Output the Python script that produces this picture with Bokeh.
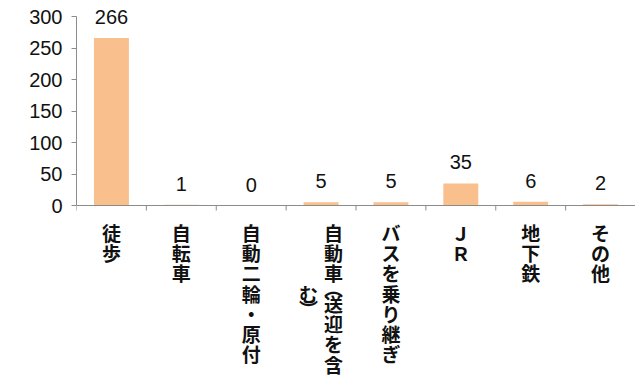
from bokeh.plotting import figure
from bokeh.models import ColumnDataSource, FixedTicker, Range1d, Span
from bokeh.core.properties import value
from bokeh.embed import file_html
from bokeh.resources import INLINE

# ---- data ----
categories = ["徒歩", "自転車", "自動二輪・原付", "自動車（送迎を含む）",
              "バスを乗り継ぎ", "ＪＲ", "地下鉄", "その他"]
values = [266, 1, 0, 5, 5, 35, 6, 2]
y_ticks = [0, 50, 100, 150, 200, 250, 300]

# ---- style / layout ----
BAR = "#F9BF8C"
AXIS = "#8C8C8C"
TXT = "#111111"
NUM_FONT = "Liberation Sans"
CJK_FONT = "Noto Sans CJK JP"
W, H = 635, 378
LEFT = 76          # frame left (px)
TOP_PX = 16        # pixel row of the top tick
ZERO_PX = 205      # pixel row of the baseline
YMAX = y_ticks[-1]
PX = (ZERO_PX - TOP_PX) / YMAX      # pixels per unit
LABEL_GAP = 21     # px between bar top and value label anchor

n = len(categories)
p = figure(width=W, height=H, output_backend="svg", toolbar_location=None,
           x_range=Range1d(0, n),
           y_range=Range1d(-(H - ZERO_PX) / PX, YMAX + TOP_PX / PX),
           min_border_left=LEFT, min_border_right=0, min_border_top=0,
           min_border_bottom=0)
p.outline_line_color = None
p.xgrid.visible = False
p.ygrid.visible = False
p.xaxis.visible = False
p.background_fill_color = "white"
p.border_fill_color = "white"

xs = [i + 0.5 for i in range(n)]
src = ColumnDataSource(dict(x=xs, top=values, label=[str(v) for v in values],
                            ly=[v + LABEL_GAP / PX for v in values]))
p.vbar(x="x", top="top", bottom=0, width=0.5, source=src,
       fill_color=BAR, line_color=None)

# data labels
p.text(x="x", y="ly", text="label", source=src, text_align="center",
       text_baseline="alphabetic", text_font=value(NUM_FONT),
       text_font_size=value("20px"), text_color=TXT)

# y axis
ya = p.yaxis[0]
ya.ticker = FixedTicker(ticks=y_ticks)
ya.bounds = (0, YMAX)
ya.axis_line_color = AXIS
ya.major_tick_line_color = AXIS
ya.major_tick_in = 0
ya.major_tick_out = 5
ya.minor_tick_line_color = None
ya.major_label_standoff = 9
ya.major_label_text_font = NUM_FONT
ya.major_label_text_font_size = "20px"
ya.major_label_text_color = TXT

# category axis: baseline + ticks between categories
p.add_layout(Span(location=0, dimension="width", line_color=AXIS, line_width=1))
bx = list(range(n + 1))
p.segment(x0=bx, x1=bx, y0=[0] * len(bx), y1=[-5 / PX] * len(bx),
          line_color=AXIS, line_width=1)

# vertical (stacked) category labels
ROW = 20.3
TOP = 16.5
COL_GAP = 25
MAX_UNITS = 7.5
VERT = {"（": "︵", "）": "︶"}
HALF = {"︵", "︶"}

def units(c):
    return 0.5 if c in HALF else 1.0

lx, ly, lxo, lt = [], [], [], []
for i, name in enumerate(categories):
    chars = [VERT.get(c, c) for c in name]
    cols = [[]]
    u = 0.0
    for c in chars:
        if u + units(c) > MAX_UNITS:
            cols.append([])
            u = 0.0
        cols[-1].append(c)
        u += units(c)
    heights = [sum(units(c) for c in col) for col in cols]
    ncol = len(cols)
    for k, col in enumerate(cols):
        xoff = ((ncol - 1) / 2 - k) * COL_GAP
        pos = TOP + (heights[0] - heights[k]) * ROW / 2
        for c in col:
            h = units(c) * ROW
            lx.append(xs[i]); lxo.append(xoff)
            ly.append(-(pos + h / 2) / PX); lt.append(c)
            pos += h

lsrc = ColumnDataSource(dict(x=lx, y=ly, xo=lxo, t=lt))
p.text(x="x", y="y", x_offset="xo", text="t", source=lsrc,
       text_align="center", text_baseline="middle",
       text_font=value(CJK_FONT), text_font_style="bold",
       text_font_size=value("19px"), text_color=TXT)

open("out.html", "w").write(file_html(p, INLINE))
